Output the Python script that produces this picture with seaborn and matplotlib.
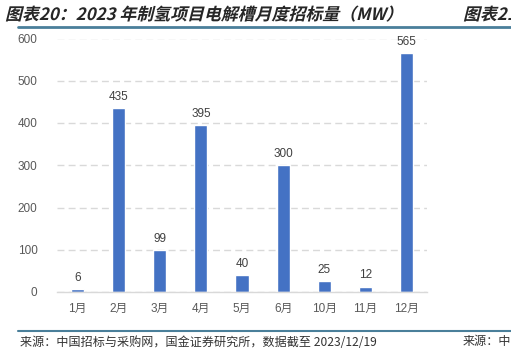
import matplotlib
matplotlib.use("Agg")
import matplotlib.pyplot as plt
import seaborn as sns
import pandas as pd
from matplotlib.textpath import TextPath
from matplotlib.patches import PathPatch
from matplotlib.font_manager import FontProperties
from matplotlib.transforms import Affine2D, IdentityTransform

months = ['1月', '2月', '3月', '4月', '5月', '6月', '10月', '11月', '12月']
capacity_mw = [6, 435, 99, 395, 40, 300, 25, 12, 565]

title = '图表20：2023 年制氢项目电解槽月度招标量（MW）'
title_next = '图表21'
source = '来源：中国招标与采购网，国金证券研究所，数据截至 2023/12/19'
source_next = '来源：中'

sns.set_theme(style='white')
plt.rcParams['font.family'] = ['Noto Sans CJK SC', 'DejaVu Sans']
latin_first = ['Liberation Sans', 'Noto Sans CJK SC']

df = pd.DataFrame({'month': months, 'mw': capacity_mw})

fig = plt.figure(figsize=(5.11, 3.62), dpi=100)
ax = fig.add_axes([57 / 511, 70 / 362, 370 / 511, 253.5 / 362])

sns.barplot(data=df, x='month', y='mw', color='#4472C4', saturation=1,
            width=0.32, ax=ax)
ax.bar_label(ax.containers[0], padding=4, fontsize=8.5, color='#404040',
             family=latin_first)

ax.set_ylim(0, 600)
ax.set_yticks(range(0, 601, 100))
ax.set_xlabel('')
ax.set_ylabel('')
ax.tick_params(axis='both', length=0, labelsize=8.5, labelcolor='#595959')
ax.tick_params(axis='x', pad=8)
ax.tick_params(axis='y', pad=14)
for lab in ax.get_xticklabels() + ax.get_yticklabels():
    lab.set_family(latin_first)
ax.yaxis.grid(True, linestyle=(0, (5, 3)), color='#d9d9d9', linewidth=1)
ax.set_axisbelow(True)
for s in ['top', 'right', 'left']:
    ax.spines[s].set_visible(False)
ax.spines['bottom'].set_color('#d9d9d9')
ax.spines['bottom'].set_linewidth(1)

# slanted titles (CJK fonts have no italic)
fp = FontProperties(family=['Noto Sans CJK SC', 'DejaVu Sans'], weight='bold')
for txt, x0 in [(title, 5), (title_next, 463)]:
    tp = TextPath((0, 0), txt, size=16.9, prop=fp)
    tr = Affine2D().skew_deg(14, 0).translate(x0, 362 - 20)
    fig.add_artist(PathPatch(tr.transform_path(tp), facecolor='#262626',
                             edgecolor='none', transform=IdentityTransform()))

fig.add_artist(plt.Line2D([18 / 511, 1], [1 - 27 / 362] * 2, color='#4a7f9a', lw=2))
fig.add_artist(plt.Line2D([18 / 511, 1], [1 - 331 / 362] * 2, color='#4a7f9a', lw=1.5))
fig.text(20 / 511, 1 - 342 / 362, source, fontsize=8.7, color='#333333',
         va='center', ha='left')
fig.text(463 / 511, 1 - 342 / 362, source_next, fontsize=8.7, color='#333333',
         va='center', ha='left')

fig.savefig('out.png', dpi=100)
